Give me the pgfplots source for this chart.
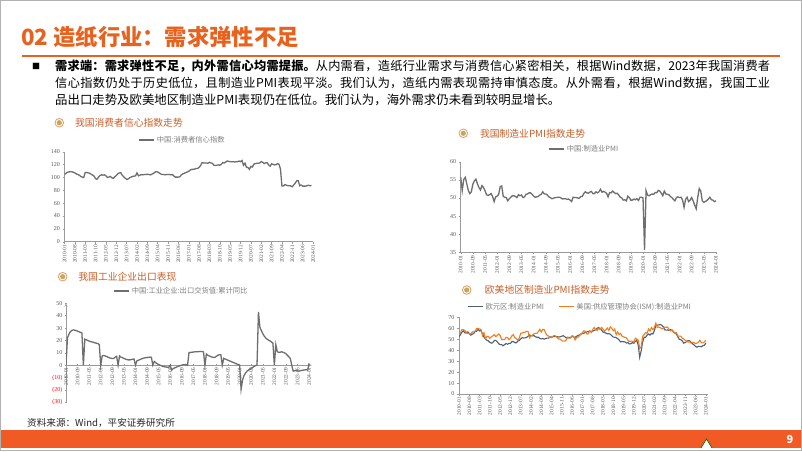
\documentclass[border=0pt]{standalone}
\usepackage{pgfplots}
\pgfplotsset{compat=1.18}
\usepackage{pgfplotstable}
\usepackage{fontspec}
\setmainfont{Liberation Serif}
\newfontfamily\cjk{Noto Sans CJK SC}
\XeTeXlinebreaklocale "zh"
\XeTeXlinebreakskip=0pt plus 1pt
\usetikzlibrary{calc}

\definecolor{titleorange}{HTML}{E8621E}
\definecolor{barorange}{HTML}{F15A24}
\definecolor{ctitle}{HTML}{C8602A}
\definecolor{iconring}{HTML}{E3A46C}
\definecolor{icondot}{HTML}{C9A45C}
\definecolor{linegray}{HTML}{6E6E6E}
\definecolor{tickgray}{HTML}{595959}
\definecolor{axgray}{HTML}{9A9A9A}
\definecolor{eurocol}{HTML}{4E5F78}
\definecolor{uscol}{HTML}{F07D1E}
\definecolor{leggray}{HTML}{7F7F7F}

% China consumer confidence index, monthly 2010-01 .. 2023-12
\pgfplotstableread[row sep=\\, header=false]{
104.7\\106.5\\108.0\\108.5\\109.0\\108.8\\108.0\\107.0\\105.5\\104.5\\103.5\\101.5\\
100.5\\99.8\\107.5\\107.8\\107.0\\106.5\\105.0\\103.5\\102.0\\98.0\\97.0\\100.5\\
103.0\\104.0\\103.5\\104.0\\102.5\\100.0\\100.5\\101.5\\99.5\\98.5\\101.0\\103.0\\
105.5\\107.0\\107.5\\103.5\\101.0\\99.0\\97.0\\97.5\\99.5\\100.5\\101.5\\102.0\\
102.5\\107.0\\102.5\\103.5\\104.5\\104.0\\104.5\\104.5\\105.0\\104.5\\104.0\\105.0\\
106.0\\108.0\\109.0\\108.5\\107.0\\105.5\\104.5\\104.5\\104.0\\104.5\\104.5\\104.5\\
104.0\\104.5\\102.0\\100.5\\100.5\\100.5\\101.0\\104.0\\105.5\\106.5\\107.5\\108.5\\
109.5\\111.5\\112.5\\112.5\\113.0\\114.0\\114.0\\115.5\\118.5\\123.0\\122.5\\122.5\\
122.5\\122.0\\123.5\\122.5\\122.0\\119.0\\118.5\\119.0\\119.5\\119.0\\120.5\\123.0\\
122.5\\124.0\\125.5\\125.0\\124.5\\124.5\\124.5\\124.0\\124.5\\124.5\\125.5\\124.5\\
126.4\\118.9\\122.2\\116.0\\115.5\\112.6\\117.2\\116.1\\120.5\\121.5\\122.0\\122.1\\
122.5\\124.5\\123.5\\121.5\\122.8\\122.8\\119.5\\117.5\\121.2\\120.2\\119.5\\119.8\\
121.5\\120.5\\113.2\\86.7\\86.8\\88.9\\87.9\\87.0\\87.2\\86.8\\85.5\\88.3\\
91.2\\94.7\\94.9\\87.1\\88.2\\86.5\\86.4\\86.5\\87.2\\87.9\\87.0\\87.6\\
}\cci

% China industrial enterprises export delivery value, cumulative yoy, 2010-01 .. 2024-01
\pgfplotstableread[row sep=\\, header=false]{
0\\22\\25\\27\\28\\28.5\\28.3\\28\\27.5\\27\\26.5\\26\\
0\\21\\20.5\\20\\19.5\\19\\18.8\\18.5\\18\\17.8\\17.5\\16.6\\
0\\7.5\\7.8\\7.5\\7\\6.5\\6\\5.6\\5.4\\5.5\\6.5\\7.2\\
0\\7.5\\6.5\\6\\5.5\\5\\4.5\\4.3\\4.3\\4.5\\4.8\\5\\
0\\3.5\\4\\4.5\\5\\5.5\\5.8\\6\\6.2\\6.4\\6.5\\6.4\\
0\\3\\2\\1.2\\0.5\\0\\-0.5\\-1\\-1.3\\-1.5\\-1.6\\-1.8\\
0\\-4\\-2.8\\-2.2\\-1.8\\-1.2\\-0.8\\-0.3\\0\\0.3\\0.4\\0.5\\
0\\10.2\\10.3\\10.5\\10.6\\10.8\\10.8\\10.9\\11\\11\\11.1\\10.7\\
0\\9\\8\\7.5\\7\\6.5\\6.2\\6.5\\7.2\\8\\8.5\\8.5\\
0\\5.5\\5\\4.5\\4\\3.5\\3\\2.5\\2\\1.5\\1\\0.5\\
0\\-19.5\\-12\\-8.5\\-6.5\\-5\\-4\\-3.2\\-2.5\\-1.8\\-1\\-0.3\\
0\\43\\30.5\\28\\25.5\\23.5\\22\\21\\20.3\\19.5\\18.8\\17.7\\
0\\16.5\\11\\10.3\\10.5\\10.8\\10.5\\10\\9.3\\8\\6.8\\5.5\\
0\\-4.8\\-4.5\\-4.3\\-4.5\\-4.8\\-4.5\\-4.2\\-4\\-3.8\\-3.6\\-3.9\\
1.5\\
}\exports

% China manufacturing PMI, 2010-01 .. 2024-01
\pgfplotstableread[row sep=\\, header=false]{
55.8\\52.0\\55.1\\55.7\\53.9\\52.1\\51.2\\51.7\\53.8\\54.7\\55.2\\53.9\\
52.9\\52.2\\53.4\\52.9\\52.0\\50.9\\50.7\\50.9\\51.2\\50.4\\49.0\\50.3\\
50.5\\51.0\\53.1\\53.3\\50.4\\50.2\\50.1\\49.2\\49.8\\50.2\\50.6\\50.6\\
50.4\\50.1\\50.9\\50.6\\50.8\\50.1\\50.3\\51.0\\51.1\\51.4\\51.4\\51.0\\
50.5\\50.2\\50.3\\50.4\\50.8\\51.0\\51.7\\51.1\\51.1\\50.8\\50.3\\50.1\\
49.8\\49.9\\50.1\\50.1\\50.2\\50.2\\50.0\\49.7\\49.8\\49.8\\49.6\\49.7\\
49.4\\49.0\\50.2\\50.1\\50.1\\50.0\\49.9\\50.4\\50.4\\51.2\\51.7\\51.4\\
51.3\\51.6\\51.8\\51.2\\51.2\\51.7\\51.4\\51.7\\52.4\\51.6\\51.8\\51.6\\
51.3\\50.3\\51.5\\51.4\\51.9\\51.5\\51.2\\51.3\\50.8\\50.2\\50.0\\49.4\\
49.5\\49.2\\50.5\\50.1\\49.4\\49.4\\49.7\\49.5\\49.8\\49.3\\50.2\\50.2\\
50.0\\35.7\\52.0\\50.8\\50.6\\50.9\\51.1\\51.0\\51.5\\51.4\\52.1\\51.9\\
51.3\\50.6\\51.9\\51.1\\51.0\\50.9\\50.4\\50.1\\49.6\\49.2\\50.1\\50.3\\
50.1\\50.2\\49.5\\47.4\\49.6\\50.2\\49.0\\49.4\\50.1\\49.2\\48.0\\47.0\\
50.1\\52.6\\51.9\\49.2\\48.8\\49.0\\49.3\\49.7\\50.2\\49.5\\49.4\\49.0\\
49.2\\
}\cnpmi

% Euro area manufacturing PMI, 2010-01 .. 2024-01
\pgfplotstableread[row sep=\\, header=false]{
52.4\\54.2\\56.6\\57.6\\55.8\\55.6\\56.7\\55.1\\53.7\\54.6\\55.3\\57.1\\
57.3\\59.0\\57.5\\58.0\\54.6\\52.0\\50.4\\49.0\\48.5\\47.1\\46.4\\46.9\\
48.8\\49.0\\47.7\\45.9\\45.1\\45.1\\44.0\\45.1\\46.1\\45.4\\46.2\\46.1\\
47.9\\47.9\\46.8\\46.7\\48.3\\48.8\\50.3\\51.4\\51.1\\51.3\\51.6\\52.7\\
54.0\\53.2\\53.0\\53.4\\52.2\\51.8\\51.8\\50.7\\50.3\\50.6\\50.1\\50.6\\
51.0\\51.0\\52.2\\52.0\\52.2\\52.5\\52.4\\52.3\\52.0\\52.3\\52.8\\53.2\\
52.3\\51.2\\51.6\\51.7\\51.5\\52.8\\52.0\\51.7\\52.6\\53.5\\53.7\\54.9\\
55.2\\55.4\\56.2\\56.7\\57.0\\57.4\\56.6\\57.4\\58.1\\58.5\\60.1\\60.6\\
59.6\\58.6\\56.6\\56.2\\55.5\\54.9\\55.1\\54.6\\53.2\\52.0\\51.8\\51.4\\
50.5\\49.3\\47.5\\47.9\\47.7\\47.6\\46.5\\47.0\\45.7\\45.9\\46.9\\46.3\\
47.9\\49.2\\44.5\\33.4\\39.4\\47.4\\51.8\\51.7\\53.7\\54.8\\53.8\\55.2\\
54.8\\57.9\\62.5\\62.9\\63.1\\63.4\\62.8\\61.4\\58.6\\58.3\\58.4\\58.0\\
58.7\\58.2\\56.5\\55.5\\54.6\\52.1\\49.8\\49.6\\48.4\\46.4\\47.1\\47.8\\
48.8\\48.5\\47.3\\45.8\\44.8\\43.4\\42.7\\43.5\\43.4\\43.1\\44.2\\44.4\\
46.6\\
}\eupmi

% US ISM manufacturing PMI, 2010-01 .. 2024-01
\pgfplotstableread[row sep=\\, header=false]{
56.3\\55.8\\58.8\\58.7\\58.0\\56.4\\55.1\\55.3\\54.8\\56.6\\57.0\\57.3\\
59.9\\59.8\\59.3\\58.9\\53.3\\55.9\\50.7\\52.5\\52.5\\50.8\\52.2\\53.1\\
54.1\\52.4\\53.4\\54.8\\53.5\\49.7\\49.8\\49.6\\51.5\\51.7\\49.5\\50.7\\
53.1\\54.2\\51.3\\50.7\\49.0\\50.9\\55.4\\55.7\\56.2\\56.4\\57.3\\57.0\\
51.3\\53.2\\53.7\\54.9\\55.4\\55.3\\57.1\\59.0\\56.6\\59.0\\58.7\\55.5\\
53.5\\52.9\\51.5\\51.5\\52.8\\53.5\\52.7\\51.1\\50.2\\50.1\\48.6\\48.2\\
48.2\\49.5\\51.8\\50.8\\51.3\\53.2\\52.6\\49.4\\51.5\\51.9\\53.2\\54.5\\
56.0\\57.7\\57.2\\54.8\\54.9\\57.8\\56.3\\58.8\\60.8\\58.7\\58.2\\59.7\\
59.1\\60.8\\59.3\\57.3\\58.7\\60.2\\58.1\\61.3\\59.8\\57.7\\59.3\\54.1\\
56.6\\54.2\\55.3\\52.8\\52.1\\51.7\\51.2\\49.1\\47.8\\48.3\\48.1\\47.2\\
50.9\\50.1\\49.1\\41.5\\43.1\\52.6\\54.2\\56.0\\55.4\\59.3\\57.5\\60.7\\
58.7\\60.8\\64.7\\60.7\\61.2\\60.6\\59.5\\59.9\\61.1\\60.8\\61.1\\58.7\\
57.6\\58.6\\57.1\\55.4\\56.1\\53.0\\52.8\\52.8\\50.9\\50.2\\49.0\\48.4\\
47.4\\47.7\\46.3\\47.1\\46.9\\46.0\\46.4\\47.6\\49.0\\46.7\\46.7\\47.4\\
49.1\\
}\uspmi

\pgfplotsset{
  slide/.style={
    scale only axis,
    axis lines=left,
    axis line style={draw=axgray, line width=0.5pt, -},
    every tick/.style={draw=axgray, line width=0.4pt},
    major tick length=2pt,
    tick align=outside,
    /pgf/number format/assume math mode=true,
    ticklabel style={font=\fontsize{5.4}{6}\selectfont, text=tickgray},
    xticklabel style={rotate=90, anchor=east, inner sep=1pt},
    yticklabel style={inner sep=2.5pt, font=\fontsize{6}{7}\selectfont},
    legend style={draw=none, fill=none, font=\cjk\fontsize{7.3}{8}\selectfont,
      text=leggray, anchor=center, legend columns=-1, inner sep=0pt,
      /tikz/every even column/.append style={column sep=12pt}},
    legend image code/.code={\draw[##1, line width=1.4pt] (0pt,0pt) -- (15pt,0pt);},
    legend cell align=left,
  },
  seven/.style={xtick={0,7,...,168},
    xticklabels={2010-01,2010-08,2011-03,2011-10,2012-05,2012-12,2013-07,2014-02,2014-09,2015-04,2015-11,2016-06,2017-01,2017-08,2018-03,2018-10,2019-05,2019-12,2020-07,2021-02,2021-09,2022-04,2022-11,2023-06,2024-01}},
  eight/.style={xtick={0,8,...,168},
    xticklabels={2010-01,2010-09,2011-05,2012-01,2012-09,2013-05,2014-01,2014-09,2015-05,2016-01,2016-09,2017-05,2018-01,2018-09,2019-05,2020-01,2020-09,2021-05,2022-01,2022-09,2023-05,2024-01}},
}

\newcommand{\charttitle}[3]{%
  \fill[white] (#1) circle (4.6pt);
  \draw[iconring, line width=0.9pt] (#1) circle (4.3pt);
  \fill[icondot] (#1) circle (2.6pt);
  \node[anchor=west, inner sep=0pt, text=ctitle, font=\cjk\fontsize{9.8}{10}\selectfont] at ($(#1)+(#2,0)$) {#3};
}

\begin{document}
\begin{tikzpicture}
\useasboundingbox (0,0) rectangle (802pt,-451pt);
\fill[white] (0,0) rectangle (802pt,-451pt);

% title
\node[anchor=west, inner sep=0pt, text=titleorange, font=\cjk\bfseries\fontsize{22.3}{23}\selectfont] at (21pt,-37pt) {02 造纸行业：需求弹性不足};
\draw[titleorange, line width=1.8pt] (22pt,-56pt) -- (780pt,-56pt);

% body text
\node[inner sep=0pt, font=\cjk\fontsize{8}{8}\selectfont] at (36pt,-66pt) {■};
\node[anchor=west, inner sep=0pt, font=\cjk\fontsize{12.2}{14}\selectfont] at (55pt,-66pt)
  {\parbox{715pt}{\parfillskip=0pt {\bfseries 需求端：需求弹性不足，内外需信心均需提振。}从内需看，造纸行业需求与消费信心紧密相关，根据Wind数据，2023年我国消费者}};
\node[anchor=west, inner sep=0pt, font=\cjk\fontsize{12.2}{14}\selectfont] at (55pt,-83pt)
  {\parbox{715pt}{\parfillskip=0pt 信心指数仍处于历史低位，且制造业PMI表现平淡。我们认为，造纸内需表现需持审慎态度。从外需看，根据Wind数据，我国工业}};
\node[anchor=west, inner sep=0pt, font=\cjk\fontsize{12.4}{14}\selectfont] at (55pt,-100pt)
  {品出口走势及欧美地区制造业PMI表现仍在低位。我们认为，海外需求仍未看到较明显增长。};

% chart titles
\charttitle{59.3pt,-122.7pt}{15.5pt}{我国消费者信心指数走势}
\charttitle{62.7pt,-276.7pt}{15.5pt}{我国工业企业出口表现}
\charttitle{463.3pt,-133.3pt}{16.5pt}{我国制造业PMI指数走势}
\charttitle{466.7pt,-290pt}{18pt}{欧美地区制造业PMI指数走势}

% chart 1: consumer confidence
\begin{axis}[slide, seven, at={(64.5pt,-241.7pt)}, anchor=south west,
  width=248.5pt, height=90pt, xmin=0, xmax=168, ymin=0, ymax=140,
  ytick={0,20,...,140},
  legend style={at={(0.475,1.13)}}]
\addplot[linegray, line width=1.3pt] table[x expr=\coordindex, y index=0] {\cci};
\addlegendentry{中国:消费者信心指数}
\end{axis}

% chart 2: exports
\begin{axis}[slide, eight, at={(66pt,-402.3pt)}, anchor=south west,
  width=245.7pt, height=99pt, xmin=0, xmax=169.8, ymin=-30, ymax=50,
  axis x line=middle, axis y line=left,
  hide obscured x ticks=false, hide obscured y ticks=false,
  ytick={-30,-20,...,50},
  yticklabels={\textcolor{red}{(30)},\textcolor{red}{(20)},\textcolor{red}{(10)},0,10,20,30,40,50},
  legend style={at={(0.47,1.124)}}]
\addplot[linegray, line width=1.3pt] table[x expr=\coordindex, y index=0] {\exports};
\addlegendentry{中国:工业企业:出口交货值:累计同比}
\end{axis}

% chart 3: China PMI
\begin{axis}[slide, eight, at={(460.7pt,-252.3pt)}, anchor=south west,
  width=256pt, height=90.6pt, xmin=0, xmax=168.5, ymin=35, ymax=60,
  ytick={35,40,...,60},
  legend style={at={(0.483,1.14)}}]
\addplot[linegray, line width=1.3pt] table[x expr=\coordindex, y index=0] {\cnpmi};
\addlegendentry{中国:制造业PMI}
\end{axis}

% chart 4: Euro / US PMI
\begin{axis}[slide, seven, at={(459pt,-394pt)}, anchor=south west,
  width=249pt, height=76.7pt, xmin=0, xmax=169.5, ymin=0, ymax=70,
  ytick={0,10,...,70},
  legend style={at={(0.486,1.138)}}]
\addplot[eurocol, line width=1.1pt] table[x expr=\coordindex, y index=0] {\eupmi};
\addlegendentry{欧元区:制造业PMI}
\addplot[uscol, line width=1.1pt] table[x expr=\coordindex, y index=0] {\uspmi};
\addlegendentry{美国:供应管理协会(ISM):制造业PMI}
\end{axis}

% source
\node[anchor=west, inner sep=0pt, font=\cjk\fontsize{9.6}{10}\selectfont, text=black!85] at (27pt,-423pt) {资料来源：Wind，平安证券研究所};

% bottom bar
\fill[barorange] (0,-430pt) rectangle (802pt,-448pt);
\fill[white] (701pt,-448pt) -- (706.5pt,-439pt) -- (712pt,-448pt) -- cycle;
\draw[green!45!black, line width=0.7pt] (701pt,-448pt) -- (706.5pt,-439pt) -- (712pt,-448pt);
\node[text=white, font=\cjk\bfseries\fontsize{11}{12}\selectfont] at (790pt,-439pt) {9};
\draw[gray!60, line width=1pt] (0.5pt,-0.5pt) rectangle (801.5pt,-450.5pt);
\end{tikzpicture}
\end{document}
